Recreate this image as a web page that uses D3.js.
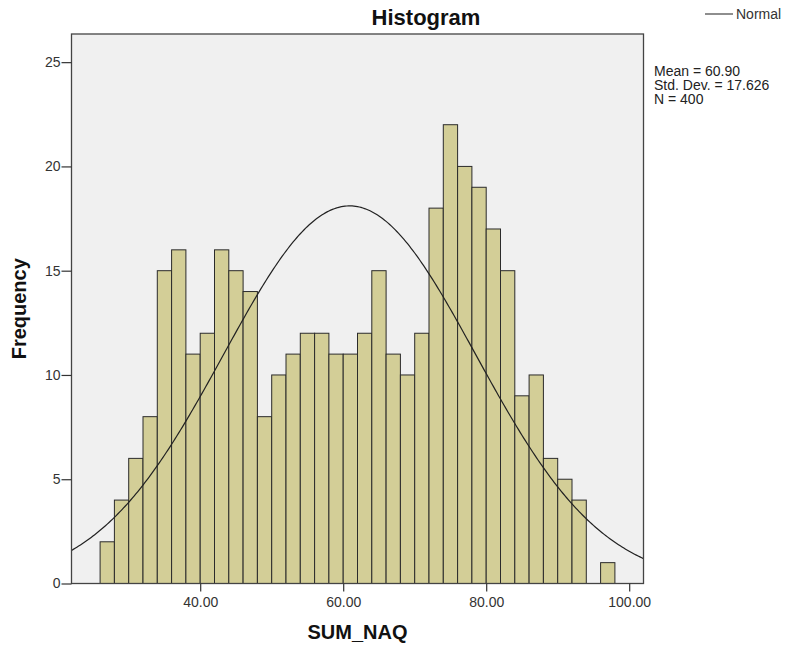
<!DOCTYPE html>
<html>
<head>
<meta charset="utf-8">
<script src="https://cdn.jsdelivr.net/npm/d3@7"></script>
<style>
  body { margin: 0; background: #fff; }
  text { font-family: Arial, "Liberation Sans", sans-serif; }
</style>
</head>
<body>
<div class="chart"></div>
<script>
// histogram bins (lower edge), width 2
var binStart = [26,28,30,32,34,36,38,40,42,44,46,48,50,52,54,56,58,60,62,64,66,68,70,72,74,76,78,80,82,84,86,88,90,92,94,96]
var counts   = [2,4,6,8,15,16,11,12,16,15,14,8,10,11,12,12,11,11,12,15,11,10,12,18,22,20,19,17,15,9,10,6,5,4,0,1]
var binWidth = 2
var xTicks = [40,60,80,100]
var yTicks = [0,5,10,15,20,25]
var stats = {mean: 60.90, sd: 17.626, n: 400}
var statLines = ["Mean = 60.90", "Std. Dev. = 17.626", "N = 400"]

var width = 785
var height = 650
var plotL = 71.5, plotR = 643.5, plotT = 34, plotB = 583.5

var svg = d3.select(".chart")
    .append("svg")
    .attr("width", width)
    .attr("height", height)

var x = d3.scaleLinear().domain([22, 102]).range([plotL, plotR])
var y = d3.scaleLinear().domain([0, 26.35]).range([plotB, plotT])

// plot background
svg.append("rect")
    .attr("x", plotL).attr("y", plotT)
    .attr("width", plotR - plotL).attr("height", plotB - plotT)
    .attr("fill", "#f0f0f0")

var bins = binStart.map((d,i) => ({x0: d, x1: d + binWidth, n: counts[i]}))
    .filter(b => b.n > 0)

// bars
svg.selectAll(".bar")
    .data(bins)
    .enter()
    .append("rect")
    .attr("class", "bar")
    .attr("x", d => x(d.x0))
    .attr("y", d => y(d.n))
    .attr("width", d => x(d.x1) - x(d.x0))
    .attr("height", d => plotB - y(d.n))
    .attr("fill", "#d3ce97")
    .attr("stroke", "#2b2b2b")
    .attr("stroke-width", 1)

// normal curve from mean / sd / N
var pts = d3.range(22, 102.01, 0.25).map(function(v) {
    var z = (v - stats.mean) / stats.sd
    return [v, stats.n * binWidth * Math.exp(-0.5*z*z) / (stats.sd * Math.sqrt(2*Math.PI))]
})
svg.append("path")
    .datum(pts)
    .attr("fill", "none")
    .attr("stroke", "#222")
    .attr("stroke-width", 1.2)
    .attr("d", d3.line().x(d => x(d[0])).y(d => y(d[1])))

// frame
svg.append("rect")
    .attr("x", plotL).attr("y", plotT)
    .attr("width", plotR - plotL).attr("height", plotB - plotT)
    .attr("fill", "none")
    .attr("stroke", "#444")
    .attr("stroke-width", 1.3)

// axes
var xAxis = svg.append("g")
    .attr("transform", "translate(0," + plotB + ")")
    .call(d3.axisBottom(x).tickValues(xTicks).tickSize(8).tickPadding(6).tickFormat(d3.format(".2f")))
var yAxis = svg.append("g")
    .attr("transform", "translate(" + plotL + ",0)")
    .call(d3.axisLeft(y).tickValues(yTicks).tickSize(10).tickPadding(1).tickFormat(d3.format("d")))

;[xAxis, yAxis].forEach(function(g) {
    g.select(".domain").remove()
    g.selectAll("line").attr("stroke", "#333").attr("stroke-width", 1.2)
    g.selectAll("text")
        .style("font-family", "Arial, 'Liberation Sans', sans-serif")
        .style("font-size", "14px")
        .attr("fill", "#333")
})

// titles
svg.append("text")
    .attr("x", 426).attr("y", 25)
    .attr("text-anchor", "middle")
    .style("font-size", "22px").style("font-weight", "bold")
    .attr("fill", "#111")
    .text("Histogram")

svg.append("text")
    .attr("x", (plotL + plotR) / 2).attr("y", 639)
    .attr("text-anchor", "middle")
    .style("font-size", "20px").style("font-weight", "bold")
    .attr("fill", "#111")
    .text("SUM_NAQ")

svg.append("text")
    .attr("transform", "translate(26," + (plotT + plotB) / 2 + ") rotate(-90)")
    .attr("text-anchor", "middle")
    .style("font-size", "20px").style("font-weight", "bold")
    .attr("fill", "#111")
    .text("Frequency")

// legend
svg.append("line")
    .attr("x1", 705).attr("x2", 733)
    .attr("y1", 14).attr("y2", 14)
    .attr("stroke", "#444").attr("stroke-width", 1.2)
svg.append("text")
    .attr("x", 736).attr("y", 19)
    .style("font-size", "14px")
    .attr("fill", "#333")
    .text("Normal")

svg.selectAll(".stat")
    .data(statLines)
    .enter()
    .append("text")
    .attr("x", 654)
    .attr("y", (d,i) => 75.5 + i*14.2)
    .style("font-size", "14px")
    .attr("fill", "#222")
    .text(d => d)
</script>
</body>
</html>
